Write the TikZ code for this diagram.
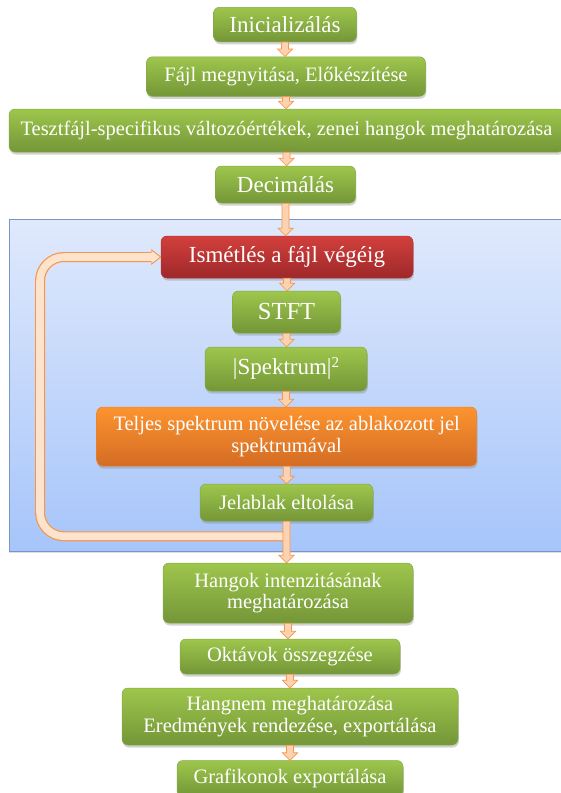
\documentclass[tikz,border=0pt]{standalone}
\usepackage{fontspec}
\setmainfont{Liberation Serif}
\usetikzlibrary{calc,shadows}
\definecolor{gtop}{RGB}{158,198,76}
\definecolor{gbot}{RGB}{116,150,56}
\definecolor{gline}{RGB}{130,170,70}
\definecolor{rtop}{RGB}{210,64,60}
\definecolor{rbot}{RGB}{158,40,42}
\definecolor{rline}{RGB}{180,50,50}
\definecolor{otop}{RGB}{252,148,48}
\definecolor{obot}{RGB}{212,108,36}
\definecolor{oline}{RGB}{235,130,45}
\definecolor{ptop}{RGB}{224,233,252}
\definecolor{pbot}{RGB}{166,197,250}
\definecolor{pline}{RGB}{120,150,200}
\definecolor{afill}{RGB}{252,210,176}
\definecolor{aline}{RGB}{245,150,75}
\definecolor{bandfill}{RGB}{253,226,204}
\newcommand{\fsmall}{\fontsize{20.5pt}{21.5pt}\selectfont}
\newcommand{\fbig}{\fontsize{23pt}{24pt}\selectfont}
\newcommand{\fhuge}{\fontsize{24.5pt}{25pt}\selectfont}
\newcommand{\varr}[2]{%
  \filldraw[arrowst] let \p1=(#1.south), \p2=(#2.north) in
    (\x1-3.5pt,\y1) -- (\x1-3.5pt,\y2+7.5pt) -- (\x1-7.5pt,\y2+7.5pt) -- (\x1,\y2)
    -- (\x1+7.5pt,\y2+7.5pt) -- (\x1+3.5pt,\y2+7.5pt) -- (\x1+3.5pt,\y1) -- cycle;}
\tikzset{
  flowbox/.style={rounded corners=6pt, line width=0.5pt, text=white, align=center,
    inner sep=0pt, font=\fsmall,
    drop shadow={opacity=0.35, shadow xshift=0.8pt, shadow yshift=-2.5pt}},
  gbox/.style={flowbox, draw=gline, top color=gtop, bottom color=gbot},
  rbox/.style={flowbox, draw=rline, top color=rtop, bottom color=rbot},
  obox/.style={flowbox, draw=oline, top color=otop, bottom color=obot},
  panel/.style={draw=pline, line width=0.8pt, top color=ptop, bottom color=pbot,
    inner sep=0pt, drop shadow={opacity=0.25, shadow xshift=0pt, shadow yshift=-2pt}},
  arrowst/.style={fill=afill, draw=aline, line width=0.7pt},
}
\begin{document}
\begin{tikzpicture}[x=1pt,y=-1pt]
\useasboundingbox (0,0) rectangle (561,793);
\fill[white] (0,0) rectangle (561,793);
\node[panel, minimum width=562pt, minimum height=332pt] (panel) at (290,385) {};

\node[gbox, font=\fbig, minimum width=143pt, minimum height=34.5pt] (ini) at (285,24.5) {Inicializálás};
\node[gbox, minimum width=279pt, minimum height=39.5pt] (fajl) at (286,76.5) {Fájl megnyitása, Előkészítése};
\node[gbox, minimum width=555pt, minimum height=43pt] (teszt) at (286.5,130.5) {Tesztfájl-specifikus változóértékek, zenei hangok meghatározása};
\node[gbox, font=\fbig, minimum width=140pt, minimum height=37pt] (dec) at (285.5,184.5) {Decimálás};

\node[rbox, font=\fbig, minimum width=252pt, minimum height=42pt] (ism) at (287,257) {Ismétlés a fájl végéig};
\node[gbox, font=\fhuge, minimum width=108pt, minimum height=42pt] (stft) at (286.5,312) {STFT};
\node[gbox, font=\fbig, minimum width=162pt, minimum height=44pt] (spek) at (286,369) {|Spektrum|\raisebox{7pt}{\fontsize{15pt}{15pt}\selectfont 2}};
\node[obox, minimum width=380pt, minimum height=59pt] (telj) at (286.7,436.5) {Teljes spektrum növelése az ablakozott jel\\spektrumával};
\node[gbox, minimum width=173pt, minimum height=37pt] (jel) at (286.5,502.5) {Jelablak eltolása};

\node[gbox, minimum width=250pt, minimum height=60pt] (hang) at (288,593) {Hangok intenzitásának\\meghatározása};
\node[gbox, minimum width=220pt, minimum height=35pt] (okt) at (290,656.5) {Oktávok összegzése};
\node[gbox, minimum width=336pt, minimum height=57pt] (hgn) at (290,716.5) {Hangnem meghatározása\\Eredmények rendezése, exportálása};
\node[gbox, minimum width=226pt, minimum height=36pt] (graf) at (290,778.5) {Grafikonok exportálása};

% loop back band
\coordinate (lstart) at ($(jel.south)+(0,15)$);
\coordinate (lleft) at (40,257);
\coordinate (lhead) at ($(ism.west)+(-9,0)$);
\draw[line width=10pt, draw=aline, rounded corners=24pt] (lstart) -| (lleft) -- (lhead);
\draw[line width=7.6pt, draw=bandfill, rounded corners=24pt] (lstart) -| (lleft) -- (lhead);
\fill[bandfill] let \p1=(lhead), \p2=(ism.west) in
  (\x1-0.5pt,\y1+3.8pt) -- (\x1,\y1+7pt) -- (\x2,\y2) -- (\x1,\y1-7pt) -- (\x1-0.5pt,\y1-3.8pt) -- cycle;
\draw[draw=aline, line width=0.9pt] let \p1=(lhead), \p2=(ism.west) in
  (\x1,\y1+5pt) -- (\x1,\y1+7pt) -- (\x2,\y2) -- (\x1,\y1-7pt) -- (\x1,\y1-5pt);

% vertical arrows
\varr{ini}{fajl}
\varr{fajl}{teszt}
\varr{teszt}{dec}
\varr{dec}{ism}
\varr{ism}{stft}
\varr{stft}{spek}
\varr{spek}{telj}
\varr{telj}{jel}
\varr{jel}{hang}
\varr{hang}{okt}
\varr{okt}{hgn}
\varr{hgn}{graf}
\end{tikzpicture}
\end{document}
